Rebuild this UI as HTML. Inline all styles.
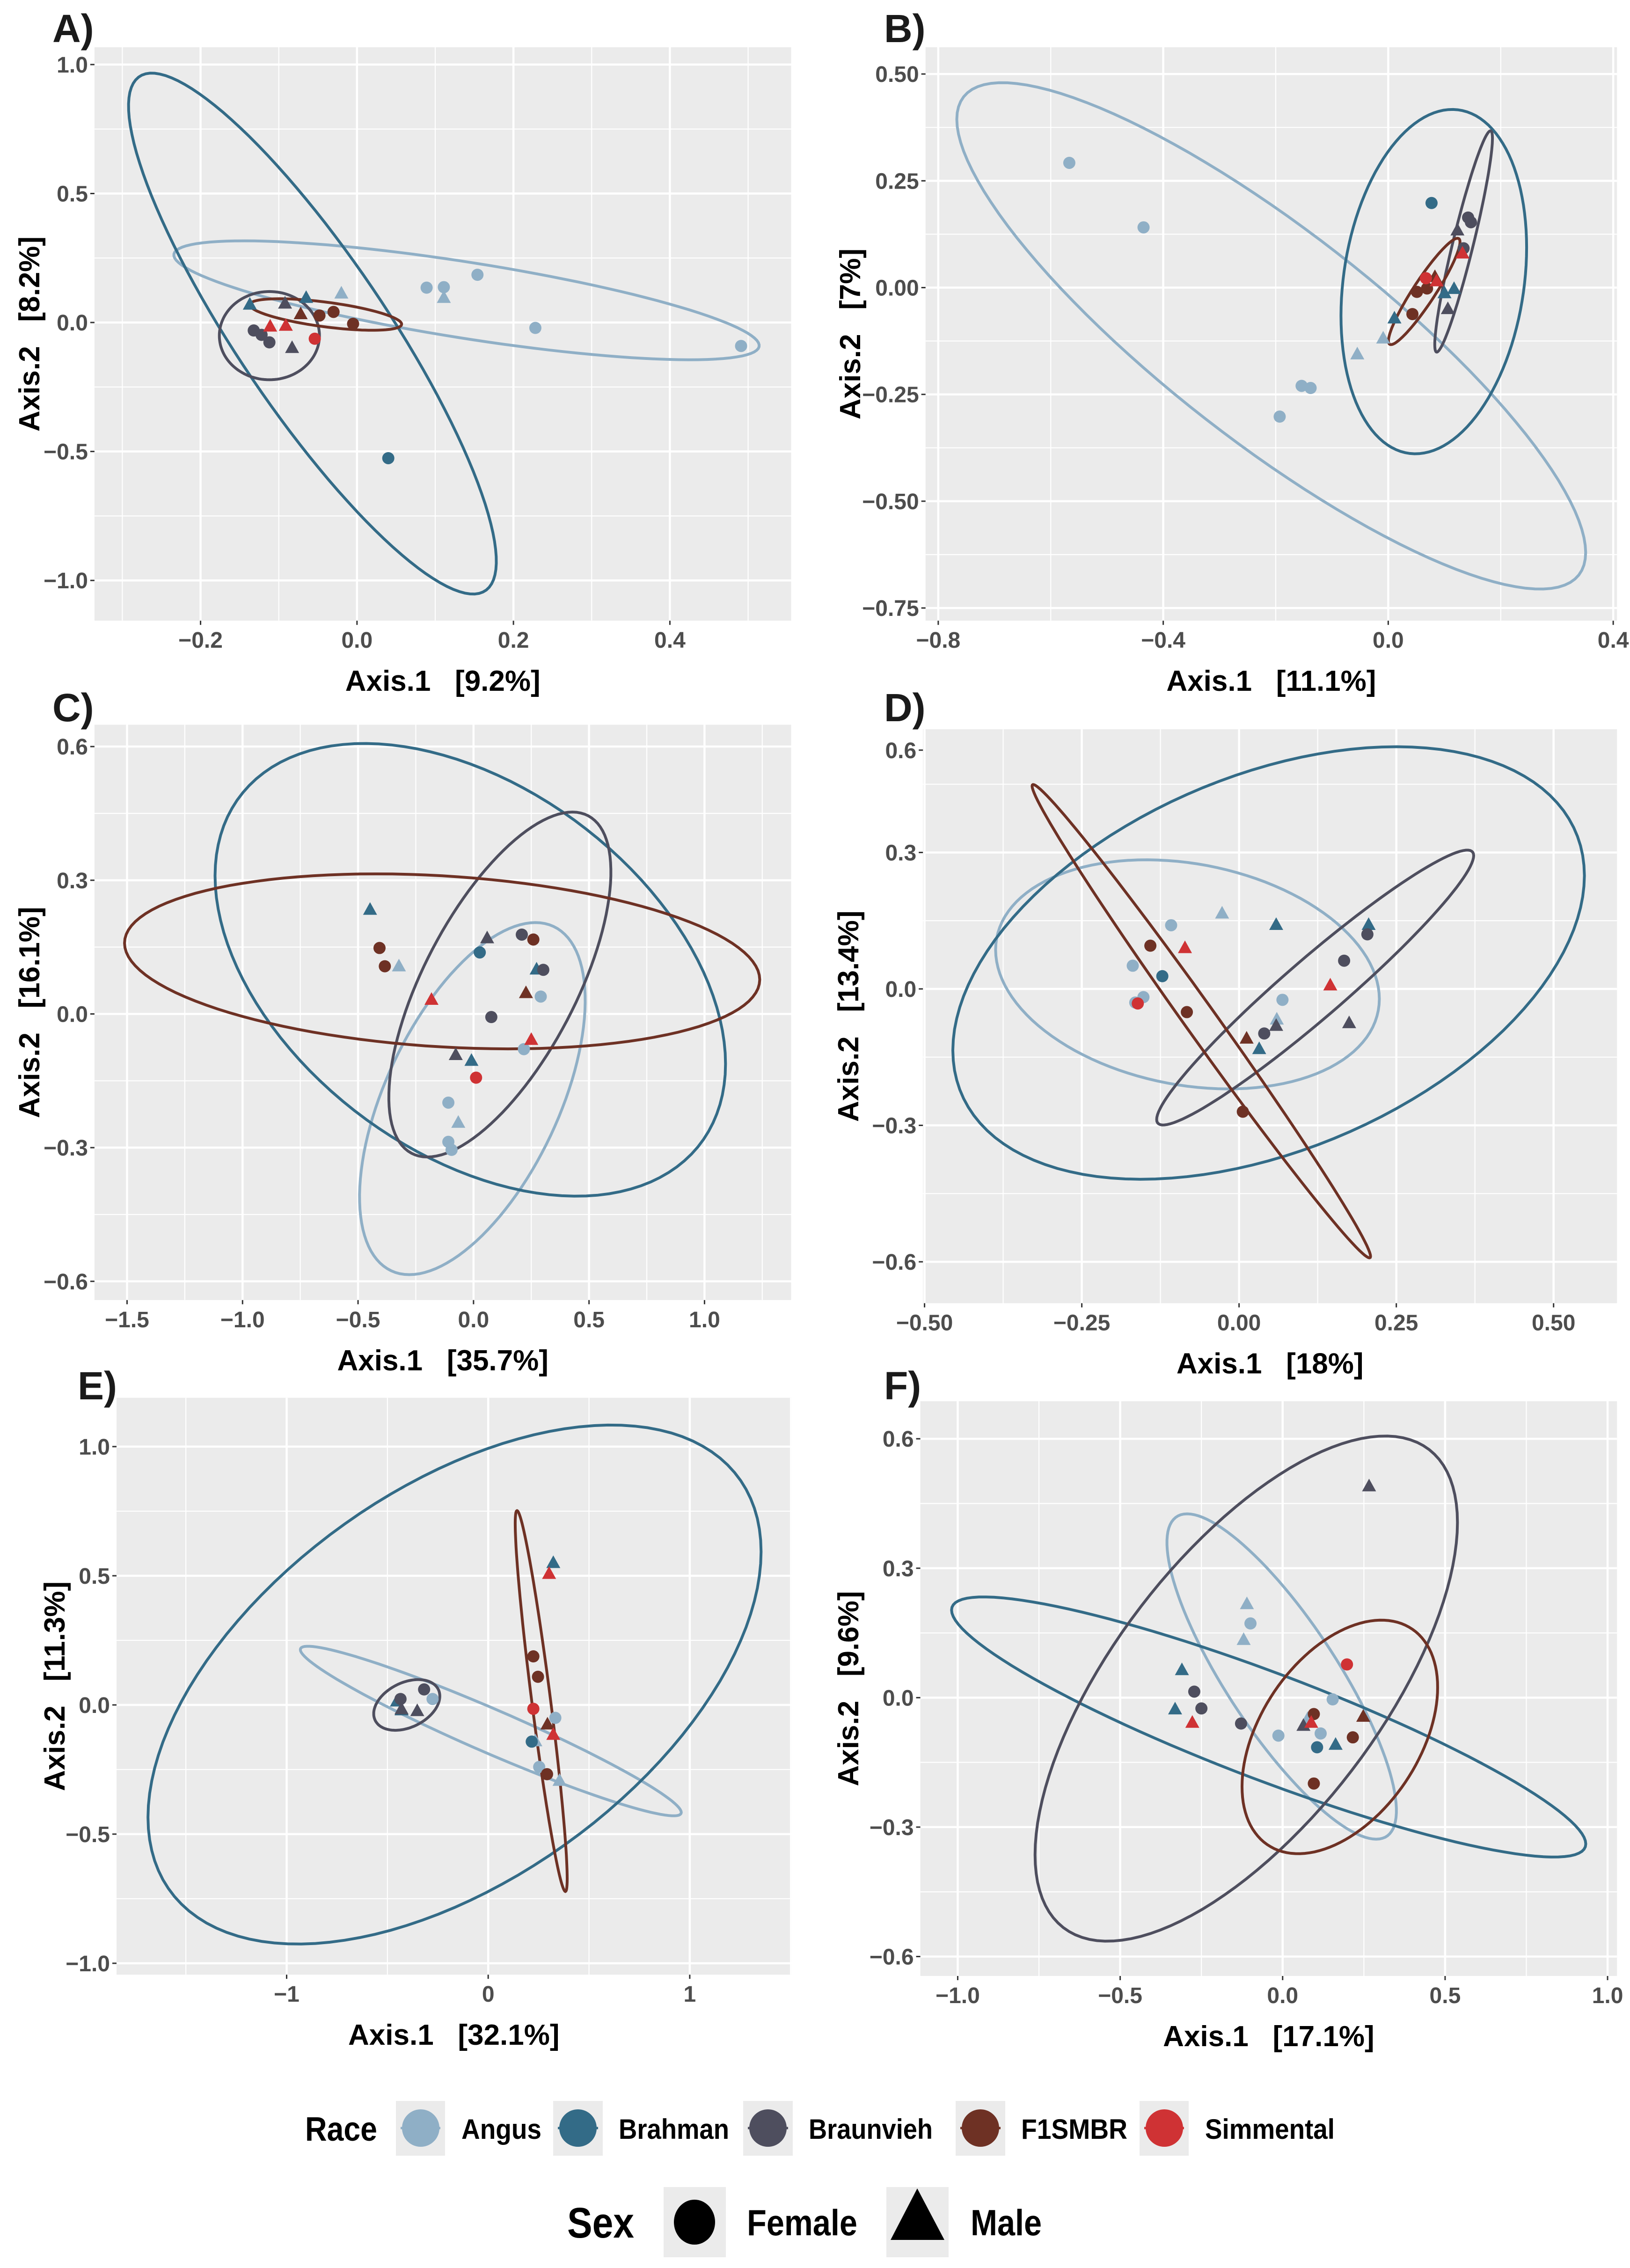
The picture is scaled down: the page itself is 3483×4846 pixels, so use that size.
<!DOCTYPE html>
<html><head><meta charset="utf-8"><style>
html,body{margin:0;padding:0;background:#fff;}
svg{display:block;}
text{font-family:"Liberation Sans Narrow","Liberation Sans",sans-serif;}
</style></head><body>
<svg id="fig" xmlns="http://www.w3.org/2000/svg" width="3483" height="4846" viewBox="0 0 3483 4846">
<rect x="0" y="0" width="3483" height="4846" fill="#fff"/>
<g id="panels"></g>
<g>
 <text x="652" y="4574" font-size="72" font-weight="bold" fill="#000" textLength="154" lengthAdjust="spacingAndGlyphs">Race</text>
 <g><rect x="846" y="4489" width="105" height="117" fill="#ebebeb"/><line x1="856" y1="4547" x2="941" y2="4547" stroke="#8fafc6" stroke-width="5"/><circle cx="899" cy="4547" r="40" fill="#8fafc6"/><text x="986" y="4570" font-size="60" font-weight="bold" textLength="171" lengthAdjust="spacingAndGlyphs">Angus</text></g>
 <g><rect x="1182" y="4489" width="106" height="117" fill="#ebebeb"/><line x1="1192" y1="4547" x2="1278" y2="4547" stroke="#336b87" stroke-width="5"/><circle cx="1235" cy="4547" r="40" fill="#336b87"/><text x="1322" y="4570" font-size="60" font-weight="bold" textLength="236" lengthAdjust="spacingAndGlyphs">Brahman</text></g>
 <g><rect x="1588" y="4489" width="106" height="117" fill="#ebebeb"/><line x1="1598" y1="4547" x2="1684" y2="4547" stroke="#4e4e5e" stroke-width="5"/><circle cx="1641" cy="4547" r="40" fill="#4e4e5e"/><text x="1728" y="4570" font-size="60" font-weight="bold" textLength="265" lengthAdjust="spacingAndGlyphs">Braunvieh</text></g>
 <g><rect x="2042" y="4489" width="106" height="117" fill="#ebebeb"/><line x1="2052" y1="4547" x2="2138" y2="4547" stroke="#6e3124" stroke-width="5"/><circle cx="2095" cy="4547" r="40" fill="#6e3124"/><text x="2182" y="4570" font-size="60" font-weight="bold" textLength="227" lengthAdjust="spacingAndGlyphs">F1SMBR</text></g>
 <g><rect x="2435" y="4489" width="105" height="117" fill="#ebebeb"/><line x1="2445" y1="4547" x2="2530" y2="4547" stroke="#cf3234" stroke-width="5"/><circle cx="2488" cy="4547" r="40" fill="#cf3234"/><text x="2575" y="4570" font-size="60" font-weight="bold" textLength="277" lengthAdjust="spacingAndGlyphs">Simmental</text></g>
</g>
<g>
 <text x="1212" y="4781" font-size="92" font-weight="bold" fill="#000" textLength="143" lengthAdjust="spacingAndGlyphs">Sex</text>
 <g><rect x="1418" y="4673" width="133" height="150" fill="#ebebeb"/><ellipse cx="1484" cy="4748" rx="44" ry="48" fill="#000"/><text x="1596" y="4776" font-size="78" font-weight="bold" textLength="236" lengthAdjust="spacingAndGlyphs">Female</text></g>
 <g><rect x="1894" y="4673" width="133" height="150" fill="#ebebeb"/><polygon points="1960,4676 1903,4786 2018,4786" fill="#000"/><text x="2074" y="4776" font-size="78" font-weight="bold" textLength="152" lengthAdjust="spacingAndGlyphs">Male</text></g>
</g>
</svg>
<script>
const raceColors=["#8fafc6","#336b87","#4e4e5e","#6e3124","#cf3234"];
const raceNames=["angus","brahman","braunvieh","f1smbr","simmental"];

// ---- Panel A data ----
const aRace=[0,0,0,0,0,0,0,1,1,1,2,2,2,2,2,3,3,3,3,4,4,4];
const aSex =[0,0,0,0,0,1,1,0,1,1,0,0,0,1,1,0,0,0,1,0,1,1];
const aX=[0.089,0.111,0.154,0.228,0.491,0.111,-0.02,0.04,-0.137,-0.065,-0.132,-0.122,-0.112,-0.092,-0.083,-0.048,-0.03,-0.005,-0.072,-0.054,-0.111,-0.091];
const aY=[0.135,0.137,0.185,-0.021,-0.091,0.094,0.111,-0.526,0.068,0.094,-0.031,-0.048,-0.077,0.072,-0.1,0.027,0.041,-0.005,0.031,-0.063,-0.017,-0.014];
const aEllRace=[0,1,2,3];
const aEllC=[[0.14,0.086],[-0.057,-0.043],[-0.112,-0.051],[-0.04,0.031]];
const aEllU=[[0.374,-0.18],[0.218,-1.002],[0.064,0],[0.097,-0.039]];
const aEllV=[[-0.011,-0.144],[0.088,0.125],[0,0.171],[-0.003,-0.047]];
const aXTicks=[-0.2,0,0.2,0.4];
const aXLabels=["−0.2","0.0","0.2","0.4"];
const aYTicks=[1,0.5,0,-0.5,-1];
const aYLabels=["1.0","0.5","0.0","−0.5","−1.0"];

// ---- Panel B data ----
const bRace=[0,0,0,0,0,0,0,1,1,1,1,2,2,2,2,2,3,3,3,3,4,4,4];
const bSex =[0,0,0,0,0,1,1,0,1,1,1,0,0,0,1,1,0,0,0,1,0,1,1];
const bX=[-0.567,-0.435,-0.193,-0.154,-0.138,-0.055,-0.009,0.077,0.011,0.1,0.117,0.142,0.147,0.134,0.123,0.106,0.043,0.051,0.069,0.083,0.067,0.086,0.132];
const bY=[0.292,0.141,-0.302,-0.23,-0.235,-0.157,-0.12,0.198,-0.073,-0.014,-0.004,0.164,0.153,0.092,0.133,-0.051,-0.062,-0.01,-0.002,0.024,0.022,0.014,0.079];
const bEllRace=[0,1,2,3];
const bEllC=[[-0.208,-0.113],[0.081,0.014],[0.134,0.108],[0.064,-0.009]];
const bEllU=[[0.559,-0.507],[0.165,0.08],[0.048,0.259],[0.061,0.124]];
const bEllV=[[0,0.307],[0,0.395],[0.018,-0.004],[0.018,-0.011]];
const bXTicks=[-0.8,-0.4,0,0.4];
const bXLabels=["−0.8","−0.4","0.0","0.4"];
const bYTicks=[0.5,0.25,0,-0.25,-0.5,-0.75];
const bYLabels=["0.50","0.25","0.00","−0.25","−0.50","−0.75"];

// ---- Panel C data ----
const cRace=[0,0,0,0,0,0,0,1,1,1,1,2,2,2,2,2,3,3,3,3,4,4,4];
const cSex =[0,0,0,0,0,1,1,0,1,1,1,0,0,0,1,1,0,0,0,1,0,1,1];
const cX=[0.291,0.218,-0.109,-0.109,-0.095,-0.323,-0.066,0.027,-0.448,-0.009,0.273,0.209,0.302,0.077,0.059,-0.077,-0.407,-0.384,0.259,0.227,0.011,-0.182,0.25];
const cY=[0.039,-0.079,-0.199,-0.287,-0.305,0.106,-0.245,0.138,0.233,-0.106,0.099,0.178,0.099,-0.007,0.169,-0.093,0.148,0.107,0.167,0.046,-0.143,0.031,-0.059];
const cEllRace=[0,1,2,3];
const cEllC=[[-0.005,-0.19],[-0.014,0.099],[0.114,0.066],[-0.136,0.118]];
const cEllU=[[0.273,0.395],[1.105,-0.211],[0.314,0.387],[1.375,-0.041]];
const cEllV=[[0.405,0],[0,0.462],[0.364,0],[0,0.192]];
const cXTicks=[-1.5,-1,-0.5,0,0.5,1];
const cXLabels=["−1.5","−1.0","−0.5","0.0","0.5","1.0"];
const cYTicks=[0.6,0.3,0,-0.3,-0.6];
const cYLabels=["0.6","0.3","0.0","−0.3","−0.6"];

// ---- Panel D data ----
const dRace=[0,0,0,0,0,0,0,1,1,1,1,2,2,2,2,2,3,3,3,3,4,4,4];
const dSex =[0,0,0,0,0,1,1,0,1,1,1,0,0,0,1,1,0,0,0,1,0,1,1];
const dX=[-0.108,-0.169,-0.165,-0.152,0.069,-0.027,0.06,-0.122,0.059,0.032,0.206,0.04,0.167,0.204,0.059,0.175,-0.141,-0.083,0.006,0.012,-0.161,-0.086,0.145];
const dY=[0.14,0.051,-0.03,-0.018,-0.024,0.165,-0.068,0.028,0.14,-0.133,0.14,-0.098,0.062,0.12,-0.082,-0.076,0.095,-0.051,-0.27,-0.11,-0.032,0.089,0.007];
const dEllRace=[0,1,2,3];
const dEllC=[[-0.082,0.032],[0.047,0.057],[0.121,0.003],[-0.06,-0.071]];
const dEllU=[[0.305,-0.054],[0.502,0.192],[0.252,0.29],[0.269,-0.517]];
const dEllV=[[0,0.246],[0,0.435],[0,0.085],[0,0.059]];
const dXTicks=[-0.5,-0.25,0,0.25,0.5];
const dXLabels=["−0.50","−0.25","0.00","0.25","0.50"];
const dYTicks=[0.525,0.3,0,-0.3,-0.6];
const dYLabels=["0.6","0.3","0.0","−0.3","−0.6"];

// ---- Panel E data ----
const eRace=[0,0,0,0,0,1,1,1,1,2,2,2,2,3,3,3,3,4,4,4];
const eSex =[0,0,0,1,1,0,1,1,1,0,0,1,1,0,0,0,1,0,1,1];
const eX=[-0.276,0.333,0.253,0.234,0.354,0.216,0.323,-0.453,-0.43,-0.318,-0.435,-0.352,-0.43,0.224,0.247,0.292,0.294,0.224,0.302,0.323];
const eY=[0.023,-0.05,-0.24,-0.142,-0.295,-0.142,0.548,0.012,-0.022,0.06,0.023,-0.025,-0.018,0.188,0.109,-0.268,-0.077,-0.015,0.506,-0.117];
const eEllRace=[0,1,2,3];
const eEllC=[[0.013,-0.101],[-0.167,0.079],[-0.404,0],[0.263,0.015]];
const eEllU=[[0.945,-0.315],[1.521,0.514],[0.164,0.034],[-0.12,0.737]];
const eEllV=[[0,0.092],[0,0.863],[0,0.092],[0.047,0]];
const eXTicks=[-1,0,1];
const eXLabels=["−1","0","1"];
const eYTicks=[1,0.5,0,-0.5,-1];
const eYLabels=["1.0","0.5","0.0","−0.5","−1.0"];

// ---- Panel F data ----
const fRace=[0,0,0,0,0,0,0,1,1,1,1,2,2,2,2,2,3,3,3,3,4,4,4];
const fSex =[0,0,0,0,1,1,1,0,1,1,1,0,0,0,1,1,0,0,0,1,0,1,1];
const fX=[-0.099,0.154,-0.013,0.117,-0.11,-0.12,0.077,0.106,-0.31,-0.331,0.163,-0.272,-0.25,-0.128,0.266,0.064,0.096,0.216,0.096,0.248,0.198,-0.278,0.088];
const fY=[0.172,-0.004,-0.088,-0.083,0.216,0.133,-0.05,-0.115,0.063,-0.028,-0.11,0.014,-0.025,-0.06,0.489,-0.066,-0.038,-0.092,-0.199,-0.045,0.077,-0.059,-0.059];
const fEllRace=[0,1,2,3];
const fEllC=[[-0.003,0.049],[-0.043,-0.068],[-0.112,0.021],[0.176,-0.091]];
const fEllU=[[-0.291,0.377],[0.976,-0.271],[0.65,0.385],[0.301,0.115]];
const fEllV=[[0.2,0],[0,0.132],[0,0.441],[0,0.245]];
const fXTicks=[-1,-0.5,0,0.5,1];
const fXLabels=["−1.0","−0.5","0.0","0.5","1.0"];
const fYTicks=[0.6,0.3,0,-0.3,-0.6];
const fYLabels=["0.6","0.3","0.0","−0.3","−0.6"];

const panelTitles=["A)","B)","C)","D)","E)","F)"];
const xTitles=["Axis.1   [9.2%]","Axis.1   [11.1%]","Axis.1   [35.7%]","Axis.1   [18%]","Axis.1   [32.1%]","Axis.1   [17.1%]"];
const yTitles=["Axis.2   [8.2%]","Axis.2   [7%]","Axis.2   [16.1%]","Axis.2   [13.4%]","Axis.2   [11.3%]","Axis.2   [9.6%]"];

const layout=[
 {rect:[201.9,101,1690.5,1326.2],xd:[-0.3356,0.555],yd:[-1.156,1.067],xs:0.2,ys:0.5,letter:[112,90],ytx:84},
 {rect:[1977.7,101,3455.2,1326.2],xd:[-0.8226,0.4067],yd:[-0.7797,0.5626],xs:0.4,ys:0.25,letter:[1889,90],ytx:1838},
 {rect:[201.9,1548.5,1690.5,2777.8],xd:[-1.641,1.375],yd:[-0.642,0.649],xs:0.5,ys:0.3,letter:[112,1541],ytx:84},
 {rect:[1972.2,1558.1,3455.2,2784.5],xd:[-0.5025,0.6008],yd:[-0.691,0.571],xs:0.25,ys:0.3,letter:[1889,1541],ytx:1834},
 {rect:[249,2986.6,1690.5,4219.2],xd:[-1.844,1.503],yd:[-1.044,1.189],xs:1,ys:0.5,letter:[166,2990],ytx:138},
 {rect:[1966.6,2994,3455.2,4222],xd:[-1.115,1.029],yd:[-0.645,0.687],xs:0.5,ys:0.3,letter:[1889,2990],ytx:1834}
];
const dataSets=[
 [aRace,aSex,aX,aY,aEllRace,aEllC,aEllU,aEllV,aXTicks,aXLabels,aYTicks,aYLabels],
 [bRace,bSex,bX,bY,bEllRace,bEllC,bEllU,bEllV,bXTicks,bXLabels,bYTicks,bYLabels],
 [cRace,cSex,cX,cY,cEllRace,cEllC,cEllU,cEllV,cXTicks,cXLabels,cYTicks,cYLabels],
 [dRace,dSex,dX,dY,dEllRace,dEllC,dEllU,dEllV,dXTicks,dXLabels,dYTicks,dYLabels],
 [eRace,eSex,eX,eY,eEllRace,eEllC,eEllU,eEllV,eXTicks,eXLabels,eYTicks,eYLabels],
 [fRace,fSex,fX,fY,fEllRace,fEllC,fEllU,fEllV,fXTicks,fXLabels,fYTicks,fYLabels]
];
const NS="http://www.w3.org/2000/svg";
function mk(tag,attrs,parent){const e=document.createElementNS(NS,tag);for(const k in attrs)e.setAttribute(k,attrs[k]);if(parent)parent.appendChild(e);return e;}
const root=document.getElementById("panels");
const defs=mk("defs",{},root);
const letters="abcdef";
layout.forEach((L,pi)=>{
 const [race,sex,X,Y,eRaceA,eC,eU,eV,xt,xl,yt,yl]=dataSets[pi];
 const [x0,y0,x1,y1]=L.rect;
 const sx=v=>x0+(v-L.xd[0])/(L.xd[1]-L.xd[0])*(x1-x0);
 const sy=v=>y1-(v-L.yd[0])/(L.yd[1]-L.yd[0])*(y1-y0);
 const g=mk("g",{},root);
 
 
 const cp=mk("clipPath",{id:"clip"+pi},defs);mk("rect",{x:x0,y:y0,width:x1-x0,height:y1-y0},cp);
 const bg=mk("rect",{x:x0,y:y0,width:x1-x0,height:y1-y0,fill:"#ebebeb"},g);
 
 
 const gg=mk("g",{"clip-path":"url(#clip"+pi+")"},g);
 
 
 const xs=L.xs, ys=L.ys;
 for(let k=Math.floor(L.xd[0]/xs)-1;k<=Math.ceil(L.xd[1]/xs)+1;k++){
  const v=k*xs, m=v+xs/2;
  if(v>=L.xd[0]&&v<=L.xd[1])mk("line",{x1:sx(v),x2:sx(v),y1:y0,y2:y1,stroke:"#fff","stroke-width":4.5},gg);
  if(m>=L.xd[0]&&m<=L.xd[1])mk("line",{x1:sx(m),x2:sx(m),y1:y0,y2:y1,stroke:"#fff","stroke-width":2.2},gg);
 }
 for(let k=Math.floor(L.yd[0]/ys)-1;k<=Math.ceil(L.yd[1]/ys)+1;k++){
  const v=k*ys, m=v+ys/2;
  if(v>=L.yd[0]&&v<=L.yd[1])mk("line",{x1:x0,x2:x1,y1:sy(v),y2:sy(v),stroke:"#fff","stroke-width":4.5},gg);
  if(m>=L.yd[0]&&m<=L.yd[1])mk("line",{x1:x0,x2:x1,y1:sy(m),y2:sy(m),stroke:"#fff","stroke-width":2.2},gg);
 }
 xt.forEach((v,i)=>{
  mk("line",{x1:sx(v),x2:sx(v),y1:y1,y2:y1+9,stroke:"#333","stroke-width":3},g);
  const t=mk("text",{x:sx(v),y:y1+58,"text-anchor":"middle","font-size":48,"font-weight":"bold",fill:"#4d4d4d"},g);
  t.textContent=xl[i];
  
  
 });
 yt.forEach((v,i)=>{
  mk("line",{x1:x0-9,x2:x0,y1:sy(v),y2:sy(v),stroke:"#333","stroke-width":3},g);
  const t=mk("text",{x:x0-14,y:sy(v)+17,"text-anchor":"end","font-size":48,"font-weight":"bold",fill:"#4d4d4d"},g);
  t.textContent=yl[i];
  
  
 });
 const xtT=mk("text",{x:(x0+x1)/2,y:y1+150,"text-anchor":"middle","font-size":62,"font-weight":"bold",fill:"#000",style:"white-space:pre"},g);
 xtT.textContent=xTitles[pi];
 
 
 const ytT=mk("text",{transform:"translate("+L.ytx+","+((y0+y1)/2)+") rotate(-90)","text-anchor":"middle","font-size":62,"font-weight":"bold",fill:"#000",style:"white-space:pre"},g);
 ytT.textContent=yTitles[pi];
 
 
 const lt=mk("text",{x:L.letter[0],y:L.letter[1],"font-size":84,"font-weight":"bold",fill:"#1a1a1a",style:"font-family:'Liberation Sans',sans-serif"},g);
 lt.textContent=panelTitles[pi];
 
 
 const eg=mk("g",{"clip-path":"url(#clip"+pi+")"},g);
 eRaceA.forEach((r,i)=>{
  let d="";
  for(let s=0;s<=120;s++){const t=s/120*2*Math.PI;
   const px=sx(eC[i][0]+eU[i][0]*Math.cos(t)+eV[i][0]*Math.sin(t));
   const py=sy(eC[i][1]+eU[i][1]*Math.cos(t)+eV[i][1]*Math.sin(t));
   d+=(s?"L":"M")+px.toFixed(1)+","+py.toFixed(1);}
  const p=mk("path",{d:d+"Z",fill:"none",stroke:raceColors[r],"stroke-width":6},eg);
  
  
 });
 const pg=mk("g",{},g);
 X.forEach((xv,i)=>{
  const px=sx(xv),py=sy(Y[i]),col=raceColors[race[i]];
  let el;
  if(sex[i]===0){el=mk("circle",{cx:px,cy:py,r:13,fill:col},pg);}
  else{el=mk("polygon",{points:px+","+(py-17)+" "+(px-15)+","+(py+10)+" "+(px+15)+","+(py+10),fill:col},pg);}
  
  
 });
});
</script>
</body></html>
